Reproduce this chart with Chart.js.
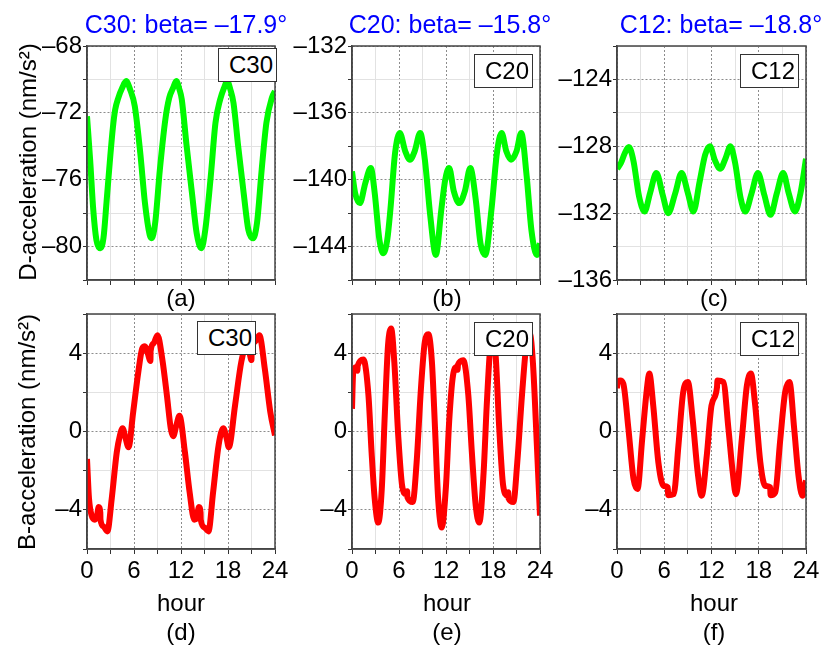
<!DOCTYPE html>
<html>
<head>
<meta charset="utf-8">
<script src="https://cdn.jsdelivr.net/npm/chart.js@4.4.0/dist/chart.umd.min.js"></script>
<style>
    body { margin: 0; background: #fff; font-family: 'Liberation Sans', Arial, sans-serif; }
    #wrap { position: relative; width: 826px; height: 646px; overflow: hidden; }
    canvas { position: absolute; }
    .lbl { position: absolute; transform: translate(-50%, -50%); white-space: nowrap; color: #000; font-size: 24px; line-height: 1; }
    .title { color: #0000ff; font-size: 25px; }
    .ytitle { transform: translate(-50%, -50%) rotate(-90deg); font-size: 24px; }
    .tag { position: absolute; border: 1px solid #333; background: #fff; font-size: 24px; text-align: right;
           box-sizing: border-box; padding-right: 3px; line-height: 31px; color: #000; }
</style>
</head>
<body>
<div id="wrap"></div>
<script>
// Hour axis (shared by all panels)
const hourTicks = [0, 6, 12, 18, 24];

// (a) D-acceleration, C30
const hoursD30 = [0, 0.4, 0.8, 1.2, 1.7, 2.1, 2.5, 2.9, 3.3, 3.6, 4.0, 4.5, 5.0, 5.5, 6.1, 6.8, 7.4, 8.0, 8.25, 8.7,
    9.3, 10.0, 10.5, 11.0, 11.4, 11.8, 12.1, 12.7, 13.4, 14.0, 14.6, 15.1, 15.8, 16.4, 17.0, 17.5, 17.9, 18.3, 18.7,
    19.3, 20.0, 20.6, 21.2, 21.7, 22.3, 22.9, 23.6, 24];
const accelD30 = [-72.2, -74.8, -77.8, -79.6, -80.1, -79.5, -77.3, -75.0, -72.9, -71.8, -71.1, -70.5, -70.1, -70.6,
    -71.6, -74.4, -77.4, -79.3, -79.5, -78.6, -75.4, -72.4, -71.1, -70.5, -70.1, -70.6, -71.2, -73.9, -76.8, -79.2,
    -80.1, -79.0, -75.8, -72.6, -71.2, -70.5, -70.1, -70.6, -71.4, -74.0, -76.8, -79.0, -79.5, -78.6, -75.4, -72.6,
    -71.1, -70.7];
const ticksD30 = [-80, -76, -72, -68];

// (b) D-acceleration, C20
const hoursD20 = [0, 0.4, 1.0, 1.7, 2.4, 2.9, 3.5, 4.0, 4.5, 4.9, 5.5, 6.1, 6.8, 7.4, 8.0, 8.7, 9.3, 10.0, 10.7, 11.4,
    11.9, 12.4, 13.0, 13.7, 14.4, 15.1, 15.8, 16.4, 17.0, 17.8, 18.5, 19.1, 19.7, 20.3, 21.0, 21.6, 22.3, 22.9, 23.6, 24];
const accelD20 = [-139.5, -140.8, -141.4, -140.2, -139.3, -140.8, -143.6, -144.4, -143.6, -141.8, -138.4, -137.2,
    -138.3, -138.8, -138.3, -137.2, -138.8, -142.2, -144.5, -141.8, -140.0, -139.3, -140.7, -141.4, -140.7, -139.3,
    -141.2, -143.8, -144.5, -141.8, -138.4, -137.2, -138.3, -138.8, -138.3, -137.2, -139.8, -143.0, -144.5, -143.8];
const ticksD20 = [-144, -140, -136, -132];

// (c) D-acceleration, C12
const hoursD12 = [0, 0.5, 1.0, 1.5, 2.1, 2.8, 3.5, 4.2, 5.0, 5.8, 6.5, 7.4, 8.2, 9.0, 9.7, 10.5, 11.2, 11.8, 12.4,
    13.1, 13.8, 14.4, 15.0, 15.7, 16.3, 17.1, 17.9, 18.7, 19.5, 20.3, 21.1, 21.8, 22.6, 23.3, 24];
const accelD12 = [-129.35, -129.0, -128.4, -128.05, -128.9, -131.0, -131.9, -130.8, -129.6, -130.9, -132.0, -130.8,
    -129.6, -130.8, -131.9, -130.1, -128.5, -128.0, -128.8, -129.35, -128.7, -128.0, -129.0, -131.1, -131.9, -130.8,
    -129.6, -130.9, -132.1, -130.8, -129.6, -130.8, -131.9, -130.8, -128.75];
const ticksD12 = [-136, -132, -128, -124];

// (d) B-acceleration, C30
const hoursB30 = [0, 0.25, 0.6, 1.0, 1.25, 1.5, 1.7, 1.72, 2.1, 2.6, 3.15, 3.8, 4.2, 4.55, 4.9, 5.3, 5.9, 6.55, 7.05,
    7.4, 7.75, 8.1, 8.12, 8.5, 9.0, 9.6, 10.2, 10.7, 11.0, 11.4, 11.8, 12.5, 13.1, 13.7, 14.0, 14.3, 14.5, 14.52, 15.0,
    15.5, 16.1, 16.8, 17.4, 17.8, 18.1, 18.9, 19.7, 20.4, 20.75, 21.0, 21.02, 21.5, 22.0, 22.7, 23.4, 24];
const accelB30 = [-1.4, -3.4, -4.3, -4.5, -4.35, -3.85, -4.15, -4.5, -4.85, -5.1, -3.45, -1.06, -0.2, 0.17, -0.3,
    -0.8, 1.0, 3.04, 4.24, 4.35, 4.0, 3.6, 4.1, 4.5, 4.92, 3.73, 1.85, 0.14, -0.24, 0.3, 0.8, -1.06, -3.1, -4.5, -4.4,
    -3.85, -4.15, -4.5, -4.9, -5.1, -3.1, -0.7, 0.17, -0.3, -0.8, 1.33, 3.56, 4.4, 4.0, 3.65, 4.1, 4.6, 4.92, 3.2,
    1.0, -0.2];

// (e) B-acceleration, C20
const hoursB20 = [0, 0.15, 0.5, 0.7, 0.72, 1.45, 2.1, 2.5, 2.9, 3.35, 3.8, 4.2, 4.6, 5.0, 5.4, 5.9, 6.4, 6.9, 7.05,
    7.07, 7.75, 8.25, 8.8, 9.3, 9.75, 10.2, 10.6, 11.0, 11.45, 12.0, 12.4, 12.9, 13.4, 13.5, 13.52, 14.2, 14.85, 15.3,
    15.8, 16.25, 16.8, 17.2, 17.6, 17.95, 18.35, 18.8, 19.3, 19.8, 19.95, 19.97, 20.6, 21.1, 21.7, 22.3, 22.7, 23.1,
    23.6, 24];
const accelB20 = [1.16, 3.0, 3.3, 3.1, 3.35, 3.68, 1.85, -1.06, -3.45, -4.65, -2.94, 1.0, 4.4, 5.26, 3.56, -0.2,
    -2.77, -3.2, -3.05, -3.35, -3.6, -1.57, 2.19, 4.58, 4.96, 3.56, 0.14, -3.45, -4.9, -2.77, 0.48, 2.87, 3.3, 3.15,
    3.4, 3.64, 1.85, -1.06, -3.8, -4.65, -2.1, 1.33, 4.07, 5.1, 3.8, 0.14, -2.77, -3.25, -3.1, -3.4, -3.6, -1.57, 1.85,
    4.6, 5.0, 3.5, -0.7, -4.3];

// (f) B-acceleration, C12
const hoursB12 = [0, 0.05, 0.4, 0.8, 1.45, 2.1, 2.6, 3.2, 3.8, 4.1, 4.6, 5.25, 5.9, 6.45, 6.5, 7.2, 7.8, 8.4, 9.0,
    9.6, 10.25, 10.75, 11.4, 12.0, 12.7, 12.75, 13.5, 14.15, 14.7, 15.1, 15.85, 16.5, 17.0, 17.55, 18.2, 18.8, 19.45,
    19.5, 20.1, 20.7, 21.35, 21.9, 22.5, 23.05, 23.55, 24];
const accelB12 = [2.2, 2.55, 2.6, 2.44, 0.14, -2.43, -2.94, -0.38, 2.19, 2.96, 1.33, -1.57, -2.77, -2.85, -3.25,
    -3.2, -0.72, 2.0, 2.53, 0.65, -2.1, -3.28, -1.23, 1.33, 2.27, 2.6, 2.53, 0.14, -2.1, -3.2, -0.38, 2.36, 2.96,
    1.33, -1.57, -2.77, -2.85, -3.25, -3.1, -0.55, 2.0, 2.53, 0.14, -2.26, -3.28, -2.5];
const ticksB = [-4, 0, 4];

const titles = ['C30: beta= \u201317.9\u00b0', 'C20: beta= \u201315.8\u00b0', 'C12: beta= \u201318.8\u00b0'];
const tags = ['C30', 'C20', 'C12'];
const panelNames = ['(a)', '(b)', '(c)', '(d)', '(e)', '(f)'];

const greenLine = 'rgb(0, 250, 0)';
const redLine = 'rgb(255, 0, 0)';
const fontFamily = "'Liberation Sans', Arial, sans-serif";

const colLeft = [87, 352, 617];
const colWidth = [188, 188, 189];
const rowTop = [46, 314];
const rowHeight = [234, 235];

const panels = [
    { col: 0, row: 0, hours: hoursD30, values: accelD30, ticks: ticksD30, color: greenLine, yMin: -82, yMax: -68 },
    { col: 1, row: 0, hours: hoursD20, values: accelD20, ticks: ticksD20, color: greenLine, yMin: -146, yMax: -132 },
    { col: 2, row: 0, hours: hoursD12, values: accelD12, ticks: ticksD12, color: greenLine, yMin: -136, yMax: -122 },
    { col: 0, row: 1, hours: hoursB30, values: accelB30, ticks: ticksB, color: redLine, yMin: -6, yMax: 6 },
    { col: 1, row: 1, hours: hoursB20, values: accelB20, ticks: ticksB, color: redLine, yMin: -6, yMax: 6 },
    { col: 2, row: 1, hours: hoursB12, values: accelB12, ticks: ticksB, color: redLine, yMin: -6, yMax: 6 }
];

const wrap = document.getElementById('wrap');

// Minus sign as en dash, like the original figure
function fmtTick(v) {
    return v < 0 ? '\u2013' + Math.abs(v) : String(v);
}

// Draws the closed frame round the plot area
const frame = {
    id: 'frame',
    afterDatasetsDraw(chart) {
        const a = chart.chartArea;
        const ctx = chart.ctx;
        ctx.save();
        ctx.strokeStyle = '#444';
        ctx.lineWidth = 1.5;
        ctx.strokeRect(a.left, a.top, a.right - a.left, a.bottom - a.top);
        ctx.restore();
    }
};

function addLabel(text, x, y, cls) {
    const d = document.createElement('div');
    d.className = 'lbl' + (cls ? ' ' + cls : '');
    d.textContent = text;
    d.style.left = x + 'px';
    d.style.top = y + 'px';
    wrap.appendChild(d);
}

function createPanel(p) {
    const left = colLeft[p.col], top = rowTop[p.row];
    const w = colWidth[p.col], h = rowHeight[p.row];
    const canvas = document.createElement('canvas');
    canvas.width = w + 102;
    canvas.height = h + 60;
    canvas.style.left = (left - 80) + 'px';
    canvas.style.top = (top - 16) + 'px';
    wrap.appendChild(canvas);

    const points = p.hours.map((hr, i) => ({ x: hr, y: p.values[i] }));
    const showHours = p.row === 1;

    new Chart(canvas.getContext('2d'), {
        type: 'line',
        data: {
            datasets: [{
                data: points,
                borderColor: p.color,
                borderWidth: 6,
                pointRadius: 0,
                cubicInterpolationMode: 'monotone',
                fill: false
            }]
        },
        options: {
            responsive: false,
            animation: false,
            layout: { padding: { top: 16, right: 22, left: 0, bottom: 0 } },
            plugins: { legend: { display: false }, tooltip: { enabled: false } },
            scales: {
                x: {
                    type: 'linear',
                    min: 0,
                    max: 24,
                    afterFit: scale => { scale.height = 44; },
                    ticks: {
                        stepSize: 3,
                        autoSkip: false,
                        maxRotation: 0,
                        padding: 3,
                        color: '#000',
                        font: { family: fontFamily, size: 24 },
                        callback: v => (showHours && hourTicks.includes(v)) ? String(v) : ''
                    },
                    grid: {
                        color: ctx => (ctx.tick && ctx.tick.value % 6 === 0) ? '#8c8c8c' : '#e2e2e2',
                        tickColor: '#333',
                        tickLength: 5
                    },
                    border: {
                        color: '#444',
                        width: 1.5,
                        dash: ctx => (ctx.tick && ctx.tick.value % 6 === 0) ? [2, 2] : []
                    }
                },
                y: {
                    min: p.yMin,
                    max: p.yMax,
                    afterFit: scale => { scale.width = 80; },
                    ticks: {
                        stepSize: 2,
                        autoSkip: false,
                        padding: 1,
                        color: '#000',
                        font: { family: fontFamily, size: 24 },
                        callback: v => p.ticks.includes(v) ? fmtTick(v) : ''
                    },
                    grid: {
                        color: ctx => (ctx.tick && p.ticks.includes(ctx.tick.value)) ? '#8c8c8c' : '#e2e2e2',
                        tickColor: '#333',
                        tickLength: 4
                    },
                    border: {
                        color: '#444',
                        width: 1.5,
                        dash: ctx => (ctx.tick && p.ticks.includes(ctx.tick.value)) ? [2, 2] : []
                    }
                }
            }
        },
        plugins: [frame]
    });
}

function addTag(text, x, y) {
    const d = document.createElement('div');
    d.className = 'tag';
    d.textContent = text;
    d.style.left = x + 'px';
    d.style.top = y + 'px';
    d.style.width = '59px';
    d.style.height = '34px';
    wrap.appendChild(d);
}

document.addEventListener('DOMContentLoaded', () => {
    panels.forEach(createPanel);

    // Column titles
    addLabel(titles[0], 186, 24, 'title');
    addLabel(titles[1], 450, 24, 'title');
    addLabel(titles[2], 721, 24, 'title');

    // Axis titles
    addLabel('D-acceleration (nm/s\u00b2)', 28, 162, 'ytitle');
    addLabel('B-acceleration (nm/s\u00b2)', 27, 432, 'ytitle');
    [181, 447, 714].forEach(x => addLabel('hour', x, 603));

    // Panel letters
    [181, 447, 714].forEach((x, i) => {
        addLabel(panelNames[i], x, 298);
        addLabel(panelNames[i + 3], x, 632);
    });

    // Series tags in the top right corners
    addTag(tags[0], 218, 48);
    addTag(tags[1], 474, 54);
    addTag(tags[2], 740, 54);
    addTag(tags[0], 197, 321);
    addTag(tags[1], 474, 322);
    addTag(tags[2], 740, 322);
});
</script>
</body>
</html>
